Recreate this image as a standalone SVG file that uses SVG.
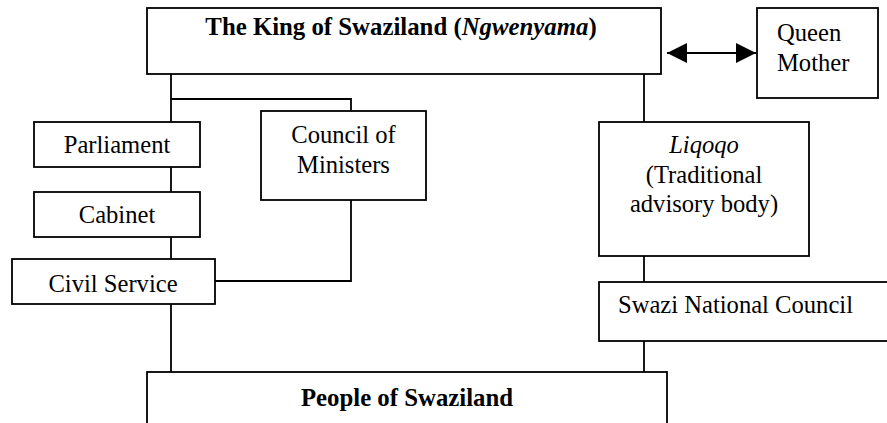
<svg xmlns="http://www.w3.org/2000/svg" width="887" height="423" viewBox="0 0 887 423">
<style>
.box{fill:#fff;stroke:#000;stroke-width:1.8}
.ln{fill:none;stroke:#000;stroke-width:1.8}
text{font-family:'Liberation Serif','Times New Roman',Times,'DejaVu Serif',serif;font-size:24.6px;fill:#000}
.b{font-weight:bold;font-size:24.8px}
.m{text-anchor:middle}
</style>
<defs>
<marker id="ah" viewBox="0 0 20 20" refX="20" refY="10" markerWidth="20" markerHeight="20" markerUnits="userSpaceOnUse" orient="auto-start-reverse">
<path d="M0,0 L20,10 L0,20 Z" fill="#000"/>
</marker>
</defs>
<rect width="887" height="423" fill="#fff"/>
<g id="connectors">
<path class="ln" d="M171,74 V122 M171,99 H351 V111 M171,167 V192 M171,237 V259 M171,304 V372"/>
<path class="ln" d="M351,200 V281 H215"/>
<path class="ln" d="M644,74 V122 M644,256 V282 M644,341 V372"/>
<line class="ln" x1="667" y1="53" x2="756" y2="53" marker-start="url(#ah)" marker-end="url(#ah)"/>
</g>
<g id="king">
<rect class="box" x="147" y="8" width="514" height="66"/>
<text class="b m" x="401" y="35">The King of Swaziland (<tspan font-style="italic">Ngwenyama</tspan>)</text>
</g>
<g id="queen-mother">
<rect class="box" x="757" y="8" width="121" height="90"/>
<text x="777" y="41">Queen</text>
<text x="777" y="71">Mother</text>
</g>
<g id="parliament">
<rect class="box" x="34" y="122" width="166" height="45"/>
<text class="m" x="117" y="153">Parliament</text>
</g>
<g id="cabinet">
<rect class="box" x="34" y="192" width="166" height="45"/>
<text class="m" x="117" y="223">Cabinet</text>
</g>
<g id="civil-service">
<rect class="box" x="12" y="259" width="203" height="45"/>
<text class="m" x="113" y="292">Civil Service</text>
</g>
<g id="council-of-ministers">
<rect class="box" x="261" y="111" width="165" height="89"/>
<text class="m" x="343.5" y="143">Council of</text>
<text class="m" x="343.5" y="173">Ministers</text>
</g>
<g id="liqoqo">
<rect class="box" x="599" y="122" width="210" height="134"/>
<text class="m" x="704" y="153" font-style="italic">Liqoqo</text>
<text class="m" x="704" y="183">(Traditional</text>
<text class="m" x="704" y="212">advisory body)</text>
</g>
<g id="swazi-national-council">
<rect class="box" x="599" y="282" width="300" height="59"/>
<text x="618" y="313">Swazi National Council</text>
</g>
<g id="people">
<rect class="box" x="147" y="372" width="520" height="70"/>
<text class="b m" x="407" y="406">People of Swaziland</text>
</g>
</svg>
